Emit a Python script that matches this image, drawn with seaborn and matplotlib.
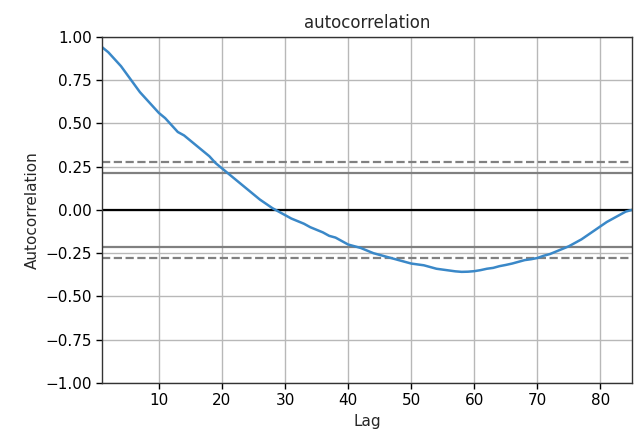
import numpy as np
import pandas as pd
import matplotlib
matplotlib.use("Agg")
import matplotlib.pyplot as plt
import seaborn as sns


# autocorrelation values, lags 1..85
lags = list(range(1, 86))
acf = [
    0.94, 0.91, 0.87, 0.83, 0.78, 0.73, 0.68, 0.64, 0.60, 0.56,
    0.53, 0.49, 0.45, 0.43, 0.40, 0.37, 0.34, 0.31, 0.27, 0.24,
    0.21, 0.18, 0.15, 0.12, 0.09, 0.06, 0.035, 0.01, -0.01, -0.03,
    -0.05, -0.065, -0.08, -0.10, -0.115, -0.13, -0.15, -0.16, -0.18, -0.20,
    -0.21, -0.22, -0.235, -0.25, -0.26, -0.27, -0.28, -0.29, -0.30, -0.31,
    -0.315, -0.32, -0.33, -0.34, -0.345, -0.35, -0.355, -0.358, -0.357, -0.354,
    -0.348, -0.34, -0.335, -0.325, -0.318, -0.31, -0.30, -0.29, -0.285, -0.278,
    -0.265, -0.255, -0.24, -0.225, -0.21, -0.19, -0.17, -0.145, -0.12, -0.095,
    -0.07, -0.05, -0.03, -0.01, 0.0,
]

n_obs = len(lags)
z95 = 1.959963984540054
z99 = 2.5758293035489
conf95 = z95 / np.sqrt(n_obs)
conf99 = z99 / np.sqrt(n_obs)

df = pd.DataFrame({"Lag": lags, "Autocorrelation": acf})

sns.set_style("ticks")
plt.rcParams["font.family"] = ["DejaVu Sans"]
plt.rcParams["font.size"] = 11

fig = plt.figure(figsize=(6.38, 4.34), dpi=100)
ax = fig.add_axes([0.16, 0.1175, 0.8306, 0.7978])

ax.axhline(conf99, linestyle="--", color="grey", linewidth=1.6)
ax.axhline(conf95, color="grey", linewidth=1.6)
ax.axhline(0.0, color="black", linewidth=1.6)
ax.axhline(-conf95, color="grey", linewidth=1.6)
ax.axhline(-conf99, linestyle="--", color="grey", linewidth=1.6)

sns.lineplot(
    data=df,
    x="Lag",
    y="Autocorrelation",
    color="#3a88c8",
    linewidth=1.8,
    ax=ax
)

ax.set_xlim(1, n_obs)
ax.set_ylim(-1.0, 1.0)
ax.set_yticks(np.arange(-1.0, 1.01, 0.25))
ax.set_yticklabels([f"{v:.2f}".replace("-", "\u2212") for v in np.arange(-1.0, 1.01, 0.25)])
ax.set_xticks(range(10, 81, 10))

ax.grid(True, color="#b8b8b8", linewidth=1.0)
ax.set_axisbelow(True)

for s in ax.spines.values():
    s.set_color("#333333")
    s.set_linewidth(1.0)
ax.tick_params(colors="black", labelsize=11, length=4, width=1.0)

ax.set_xlabel("Lag", fontsize=11)
ax.set_ylabel("Autocorrelation", fontsize=11)
ax.set_title("autocorrelation", fontsize=12)

plt.savefig("out.png", dpi=100)
plt.close()
